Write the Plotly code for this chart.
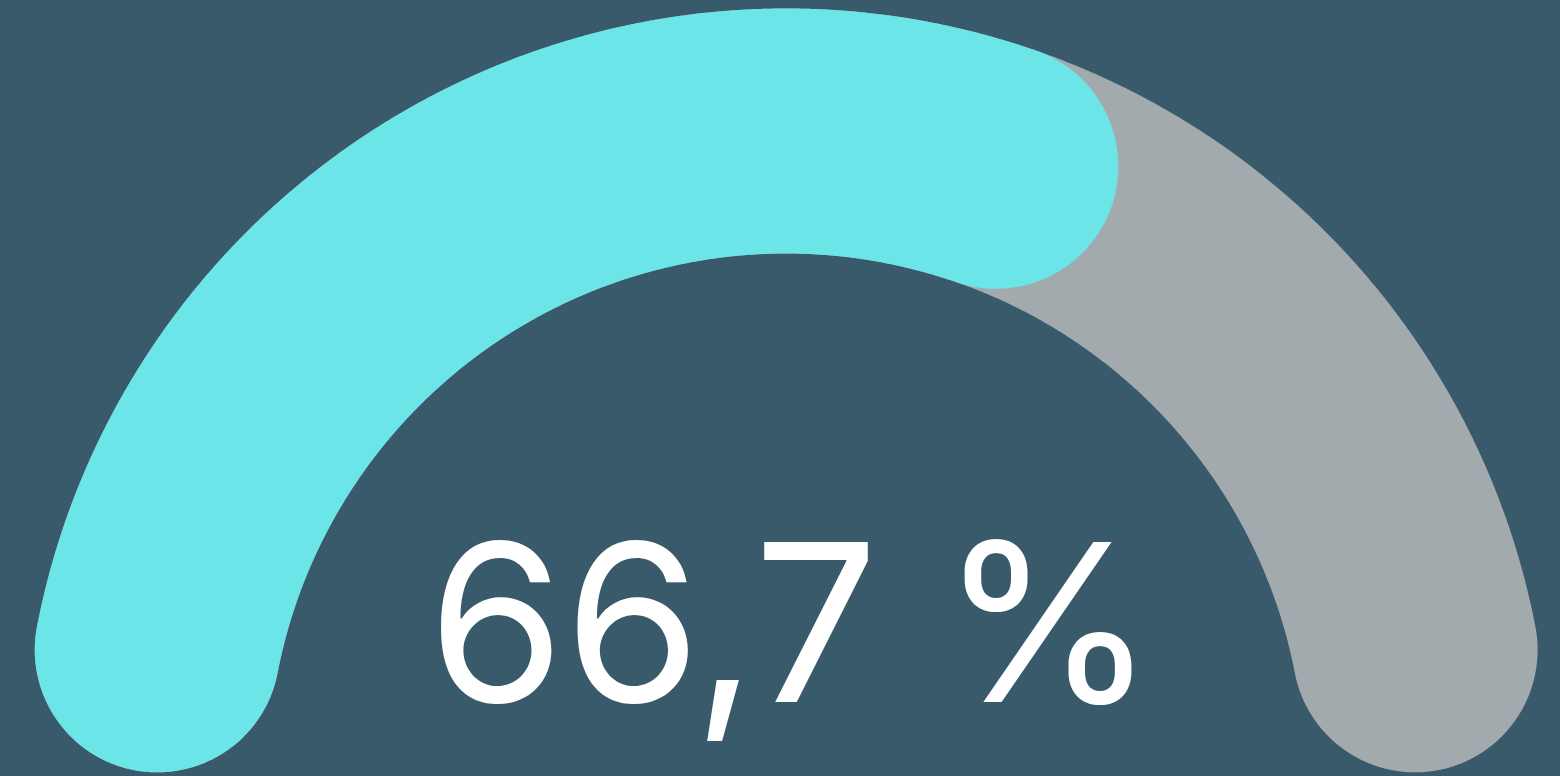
import numpy as np
import plotly.graph_objects as go

# data
gauge_value = [66.7]
gauge_max = [100]
value_label = ["66,7 %"]

BG = "#385a6b"
TRACK = "#a3aaad"
BAR = "#6ce5e8"

W, H = 1560, 776
cx, cy = 786.2, 771.6
R = 640.6
half = 122.5
cap_ang = np.degrees(half / R)


def band(t_start, t_end, n=600):
    """Arc band with round caps; angles in degrees (cap centres)."""
    ts = np.radians(np.linspace(t_start, t_end, n))
    xo = cx + (R + half) * np.cos(ts)
    yo = cy - (R + half) * np.sin(ts)
    xi = cx + (R - half) * np.cos(ts[::-1])
    yi = cy - (R - half) * np.sin(ts[::-1])
    te = np.radians(t_end)
    ex, ey = cx + R * np.cos(te), cy - R * np.sin(te)
    a = np.linspace(0, np.pi, 200)
    dirs = te - a
    cex = ex + half * np.cos(dirs)
    cey = ey - half * np.sin(dirs)
    ts0 = np.radians(t_start)
    sx, sy = cx + R * np.cos(ts0), cy - R * np.sin(ts0)
    dirs0 = ts0 + np.pi - a
    csx = sx + half * np.cos(dirs0)
    csy = sy - half * np.sin(dirs0)
    x = np.concatenate([xo, cex, xi, csx])
    y = np.concatenate([yo, cey, yi, csy])
    return x, y


frac = gauge_value[0] / gauge_max[0]
start_c = 180 - cap_ang
end_track = 0 + cap_ang
end_bar = 180 * (1 - frac) + cap_ang

fig = go.Figure()
tx, ty = band(start_c, end_track)
fig.add_trace(go.Scatter(x=tx, y=ty, fill="toself", fillcolor=TRACK, mode="lines",
                         line=dict(width=0, color=TRACK, simplify=False),
                         hoverinfo="skip", showlegend=False))
bx, by = band(start_c, end_bar)
fig.add_trace(go.Scatter(x=bx, y=by, fill="toself", fillcolor=BAR, mode="lines",
                         line=dict(width=0, color=BAR, simplify=False),
                         hoverinfo="skip", showlegend=False))

fig.add_annotation(x=cx + 6, y=622, xref="x", yref="y", text=value_label[0], showarrow=False,
                   xanchor="center", yanchor="middle",
                   font=dict(family="Inter", size=220, color="#ffffff"))

fig.update_layout(
    width=W, height=H, margin=dict(l=0, r=0, t=0, b=0),
    paper_bgcolor=BG, plot_bgcolor=BG,
    xaxis=dict(range=[0, W], visible=False, fixedrange=True),
    yaxis=dict(range=[H, 0], visible=False, fixedrange=True),
)
fig.write_html("out.html")
